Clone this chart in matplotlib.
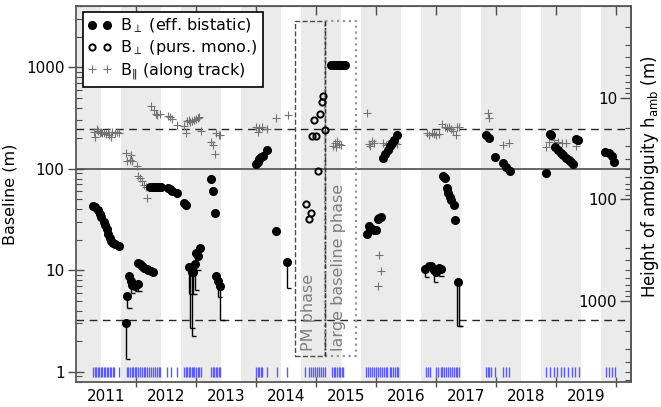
import numpy as np
import matplotlib
matplotlib.use('Agg')
import matplotlib.pyplot as plt
from matplotlib.patches import Rectangle
from matplotlib.ticker import FuncFormatter, NullFormatter, FixedLocator

K_HAMB = 5000.0  # h_amb * B_perp (m^2)

# effective bistatic perpendicular baseline (m)
bist_x = [2011.29, 2011.33, 2011.38, 2011.40, 2011.43, 2011.47, 2011.49, 2011.52, 2011.54, 2011.57,
          2011.59, 2011.62, 2011.66, 2011.72,
          2011.83, 2011.86, 2011.89, 2011.92, 2011.94, 2011.98, 2012.03,
          2012.03, 2012.07, 2012.10, 2012.14, 2012.18, 2012.21, 2012.25, 2012.28,
          2012.23, 2012.28, 2012.32, 2012.37, 2012.42, 2012.53, 2012.57, 2012.61, 2012.69,
          2012.80, 2012.83,
          2012.89, 2012.93, 2012.96, 2012.99, 2013.01, 2013.04, 2013.07,
          2013.25, 2013.29, 2013.32, 2013.34, 2013.37, 2013.41,
          2014.00, 2014.03, 2014.06, 2014.09, 2014.12, 2014.19, 2014.33, 2014.52,
          2015.25, 2015.27, 2015.29, 2015.31, 2015.33, 2015.35, 2015.37, 2015.39, 2015.41,
          2015.43, 2015.45, 2015.47, 2015.49,
          2015.85, 2015.88, 2015.90, 2015.93, 2015.97, 2016.00, 2016.03, 2016.06, 2016.09,
          2016.12, 2016.16, 2016.20, 2016.23, 2016.27, 2016.31, 2016.36,
          2016.82, 2016.88, 2016.92, 2016.97, 2017.01, 2017.06, 2017.08,
          2017.12, 2017.15, 2017.18, 2017.21, 2017.23, 2017.26, 2017.30, 2017.32, 2017.37,
          2017.83, 2017.88, 2017.98, 2018.11, 2018.17, 2018.23,
          2018.83, 2018.90, 2018.92, 2018.99, 2019.03, 2019.08, 2019.12, 2019.17, 2019.21,
          2019.25, 2019.29, 2019.34, 2019.37,
          2019.82, 2019.88, 2019.93, 2019.97]
bist_b = [43.0, 41.7, 39.2, 35.8, 33.7, 30.1, 27.9, 25.3, 22.7, 20.7,
          19.5, 18.7, 18.2, 17.3,
          3.0, 5.6, 8.8, 7.9, 7.2, 7.0, 7.3,
          11.7, 11.4, 11.0, 10.6, 10.2, 10.0, 9.8, 9.7,
          65.6, 66.6, 66.6, 66.6, 66.6, 65.0, 62.7, 60.7, 57.3,
          46.3, 43.9,
          10.7, 9.7, 9.7, 11.5, 14.7, 13.9, 16.6,
          79.0, 60.3, 36.4, 8.8, 7.9, 7.0,
          111, 117, 124, 129, 133, 153, 24.2, 12.2,
          1040, 1040, 1040, 1040, 1040, 1040, 1040, 1040, 1040,
          1040, 1040, 1040, 1040,
          22.6, 27.3, 26.2, 25.7, 25.0, 25.0, 31.8, 32.7, 33.3,
          128, 140, 153, 167, 178, 191, 213,
          10.2, 11.0, 11.1, 10.0, 9.7, 10.5, 10.3,
          84.7, 81.7, 65.0, 58.0, 53.0, 49.2, 44.0, 31.3, 7.6,
          214, 199, 129, 115, 104, 95.5,
          90, 219, 213, 162, 153, 144, 135, 127, 122,
          116, 111, 194, 191,
          147, 142, 133, 117]

# range bars below some bistatic points: x, top, bottom
bar_x = [2011.83, 2011.86, 2011.92, 2011.98, 2012.03, 2012.89, 2012.91, 2012.93, 2012.95,
         2012.99, 2013.01, 2013.37, 2013.41, 2014.52, 2016.82, 2016.97, 2017.06, 2017.36, 2017.38]
bar_top = [3.0, 5.6, 7.9, 7.0, 7.3, 10.7, 10.0, 9.7, 9.7,
           11.5, 14.7, 7.9, 7.0, 12.2, 10.2, 10.0, 10.5, 7.6, 7.6]
bar_low = [1.33, 4.3, 6.0, 6.2, 6.3, 5.8, 2.7, 2.26, 5.8,
           6.4, 10.1, 5.4, 3.25, 6.7, 8.5, 7.6, 8.7, 2.8, 2.8]

# pursuit monostatic perpendicular baseline (m)
mono_x = [2014.83, 2014.88, 2014.92, 2014.93, 2014.97, 2015.01, 2015.03, 2015.07, 2015.10, 2015.12, 2015.16]
mono_b = [44.6, 31.8, 36.4, 210, 301, 210, 94.8, 343, 453, 519, 238]

# along track baseline (m)
along_x = [2011.31, 2011.33, 2011.35, 2011.38, 2011.40, 2011.42, 2011.44, 2011.47, 2011.50, 2011.53,
           2011.56, 2011.58, 2011.61, 2011.66, 2011.69, 2011.72,
           2011.83, 2011.92, 2011.86, 2011.90, 2011.94, 2012.02,
           2012.04, 2012.07, 2012.10, 2012.14, 2012.17, 2012.19,
           2012.25, 2012.30, 2012.33, 2012.36, 2012.40, 2012.53, 2012.57, 2012.60, 2012.69, 2012.81,
           2012.83, 2012.89, 2012.86, 2012.90, 2012.93, 2012.97, 2013.00, 2013.03, 2013.06, 2013.08,
           2013.25, 2013.28, 2013.32, 2013.33, 2013.38, 2013.41,
           2014.00, 2014.05, 2014.03, 2014.11, 2014.19, 2014.33, 2014.53,
           2015.28, 2015.32, 2015.36, 2015.39, 2015.33, 2015.42,
           2015.85, 2015.88, 2015.93, 2015.97, 2015.90,
           2016.12, 2016.17, 2016.20, 2016.25, 2016.32, 2016.36, 2016.06, 2016.09, 2016.03,
           2016.85, 2016.89, 2016.93, 2016.97, 2017.01, 2017.06, 2017.11, 2017.15, 2017.18, 2017.22,
           2017.26, 2017.29, 2017.33, 2017.35, 2017.39,
           2017.86, 2017.89, 2018.11, 2018.22,
           2018.83, 2018.89, 2018.96, 2019.03, 2019.10, 2019.17, 2019.33, 2019.34]
along_b = [231, 206, 244, 236, 226, 231, 223, 226, 219, 231,
           214, 206, 231, 223, 231, 226,
           142, 136, 120, 122, 120, 106,
           84.7, 80.4, 76.2, 69.0, 66.4, 51.1,
           413, 378, 344, 337, 344, 330, 320, 306, 268, 262,
           223, 301, 296, 290, 293, 301, 306, 313, 320, 236,
           184, 171, 139, 226, 214, 214,
           259, 250, 231, 255, 244, 313, 337,
           167, 178, 188, 174, 162, 170,
           356, 174, 188, 178, 167,
           181, 170, 174, 186, 178, 174, 14.1, 9.8, 7.0,
           226, 214, 223, 219, 214, 219, 275, 259, 250, 255,
           244, 236, 214, 255, 259,
           350, 313, 171, 178,
           162, 184, 191, 184, 181, 181, 184, 167]

# acquisition dates (blue ticks at the bottom)
acq_x = [2011.29, 2011.32, 2011.34, 2011.37, 2011.39, 2011.42, 2011.44, 2011.47, 2011.49, 2011.52,
         2011.54, 2011.57, 2011.59, 2011.62, 2011.64, 2011.72,
         2011.85, 2011.87, 2011.90, 2011.93, 2011.96, 2011.98,
         2012.01, 2012.04, 2012.07, 2012.10, 2012.13, 2012.16, 2012.19, 2012.22, 2012.25, 2012.28,
         2012.32, 2012.35, 2012.38, 2012.41, 2012.52, 2012.59, 2012.68,
         2012.80, 2012.83, 2012.85, 2012.88, 2012.90, 2012.93, 2012.95, 2012.97, 2013.00, 2013.03,
         2013.05, 2013.08,
         2013.26, 2013.29, 2013.31, 2013.34, 2013.36, 2013.39, 2013.41,
         2014.00, 2014.03, 2014.06, 2014.08, 2014.11, 2014.19, 2014.35, 2014.52,
         2014.82, 2014.89, 2014.92, 2014.96, 2014.99, 2015.02, 2015.06, 2015.09, 2015.12, 2015.16,
         2015.27, 2015.30, 2015.32, 2015.35, 2015.38, 2015.40, 2015.43, 2015.45,
         2015.83, 2015.87, 2015.90, 2015.93, 2015.97, 2016.00, 2016.03, 2016.07, 2016.10, 2016.13,
         2016.17, 2016.19, 2016.23, 2016.26, 2016.29, 2016.32, 2016.35, 2016.37,
         2016.83, 2016.87, 2016.90,
         2017.01, 2017.04, 2017.08, 2017.11, 2017.14, 2017.17, 2017.20, 2017.23, 2017.27, 2017.30,
         2017.33, 2017.36, 2017.39,
         2017.83, 2017.86, 2017.88, 2017.91, 2017.99, 2018.11, 2018.17, 2018.22,
         2018.83, 2018.90, 2018.96, 2019.02, 2019.08, 2019.14, 2019.20, 2019.26, 2019.32, 2019.38,
         2019.83, 2019.88, 2019.93, 2019.98]

years = [2011, 2012, 2013, 2014, 2015, 2016, 2017, 2018, 2019]
year_labels = [str(y) for y in years]
hamb_ticks = [10, 100, 1000]

# PM phase / large baseline phase boxes (x in years, B range)
pm_start, pm_end, lb_end = 2014.65, 2015.155, 2015.667
box_low, box_high = 1.44, 2830

fig = plt.figure(figsize=(6.61, 4.07), dpi=100)
ax = fig.add_axes([0.1145, 0.0622, 0.8401, 0.9231])
ax.set_yscale('log')
ax.set_xlim(2011.0, 2020.25)
ax.set_ylim(0.8, 4000)

# winter season shading (Oct - May)
for y in range(2010, 2020):
    ax.axvspan(y + 0.75, y + 1.4167, color='0.92', lw=0, zorder=0)

ax.axhline(100, color='0.35', lw=1.3, zorder=1)
ax.axhline(244, color='0.15', lw=1, ls=(0, (5.5, 4)), zorder=1)
ax.axhline(3.25, color='0.15', lw=1, ls=(0, (5.5, 4)), zorder=1)

ax.add_patch(Rectangle((pm_start, box_low), pm_end - pm_start, box_high - box_low,
                       fill=False, ls='--', ec='0.3', lw=1, zorder=2))
ax.add_patch(Rectangle((pm_end, box_low), lb_end - pm_end, box_high - box_low,
                       fill=False, ls=':', ec='0.6', lw=1.6, zorder=2))
ax.plot([pm_end, pm_end], [box_low, box_high], color='0.2', lw=1, ls=(0, (3, 1.5, 1, 1.5)), zorder=2)
ax.text((pm_start + pm_end) / 2 - 0.02, 1.6, 'PM phase', rotation=90, color='0.5',
        fontsize=11.5, ha='center', va='bottom')
ax.text((pm_end + lb_end) / 2 - 0.03, 1.6, 'large baseline phase', rotation=90, color='0.5',
        fontsize=11.5, ha='center', va='bottom')

ax.vlines(acq_x, 0.89, 1.12, colors='#5a5aff', lw=1, zorder=3)

ax.vlines(bar_x, bar_low, bar_top, colors='k', lw=1, zorder=3)
ax.hlines(bar_low, bar_x, np.array(bar_x) + 0.07, colors='k', lw=1, zorder=3)

ax.plot(along_x, along_b, '+', color='0.45', ms=6, mew=0.8, zorder=4,
        label='B$_{\\Vert}$ (along track)')
ax.plot(mono_x, mono_b, 'o', mfc='none', mec='k', ms=4.5, mew=1.4, zorder=5,
        label='B$_{\\perp}$ (purs. mono.)')
ax.plot(bist_x, bist_b, 'o', color='k', ms=5.5, zorder=5,
        label='B$_{\\perp}$ (eff. bistatic)')

handles, labels = ax.get_legend_handles_labels()
order = [2, 1, 0]
leg = ax.legend([handles[i] for i in order], [labels[i] for i in order], loc='upper left',
                bbox_to_anchor=(0.0126, 0.985), borderaxespad=0, numpoints=2, fontsize=11.5,
                fancybox=False, framealpha=1, edgecolor='k', handlelength=1.5,
                handletextpad=0.55, borderpad=0.3, labelspacing=0.22)
leg.get_frame().set_linewidth(1.2)

# x axis: ticks at year boundaries, labels at year centres
ax.set_xticks(range(2012, 2021))
ax.set_xticklabels([])
ax.set_xticks([y + 0.5 for y in years], minor=True)
ax.set_xticklabels(year_labels, minor=True)
ax.tick_params(axis='x', which='major', direction='inout', length=7, width=1, color='0.3')
ax.tick_params(axis='x', which='minor', length=0, labelsize=11, pad=5)
secx = ax.secondary_xaxis('top')
secx.set_xticks(range(2012, 2021))
secx.tick_params(direction='in', length=6.5, width=1, color='0.3', labeltop=False)
secx.spines['top'].set_color('0.35')

fmt = FuncFormatter(lambda v, p: '%g' % v)
ax.yaxis.set_major_formatter(fmt)
ax.yaxis.set_minor_formatter(NullFormatter())
ax.tick_params(axis='y', which='major', direction='inout', length=12, width=1, color='0.3',
               labelsize=11, pad=2)
ax.tick_params(axis='y', which='minor', direction='in', length=4.5, width=0.8, color='0.3')
ax.set_ylabel('Baseline (m)', fontsize=11.5, labelpad=6)

def b2h(b):
    b = np.asarray(b, dtype=float)
    return K_HAMB / np.where(b == 0, 1e-12, b)

secy = ax.secondary_yaxis(1.0, functions=(b2h, b2h))
secy.set_alignment('left')
secy.yaxis.set_major_locator(FixedLocator(hamb_ticks))
secy.yaxis.set_major_formatter(fmt)
secy.yaxis.set_minor_formatter(NullFormatter())
secy.tick_params(which='major', direction='out', length=8, width=1, color='0.3', labelsize=11, pad=2)
secy.tick_params(which='minor', direction='out', length=4, width=0.8, color='0.3')
secy.yaxis.set_label_position('right')
secy.set_ylabel('Height of ambiguity h$_{\\rm amb}$ (m)', fontsize=12)
secy.yaxis.set_label_coords(1.014, 0.545, transform=ax.transAxes)

for s in ax.spines.values():
    s.set_color('0.35')
    s.set_linewidth(1.3)
for s in secy.spines.values():
    s.set_color('0.35')
    s.set_linewidth(1.3)

fig.savefig('out.png', dpi=100)
